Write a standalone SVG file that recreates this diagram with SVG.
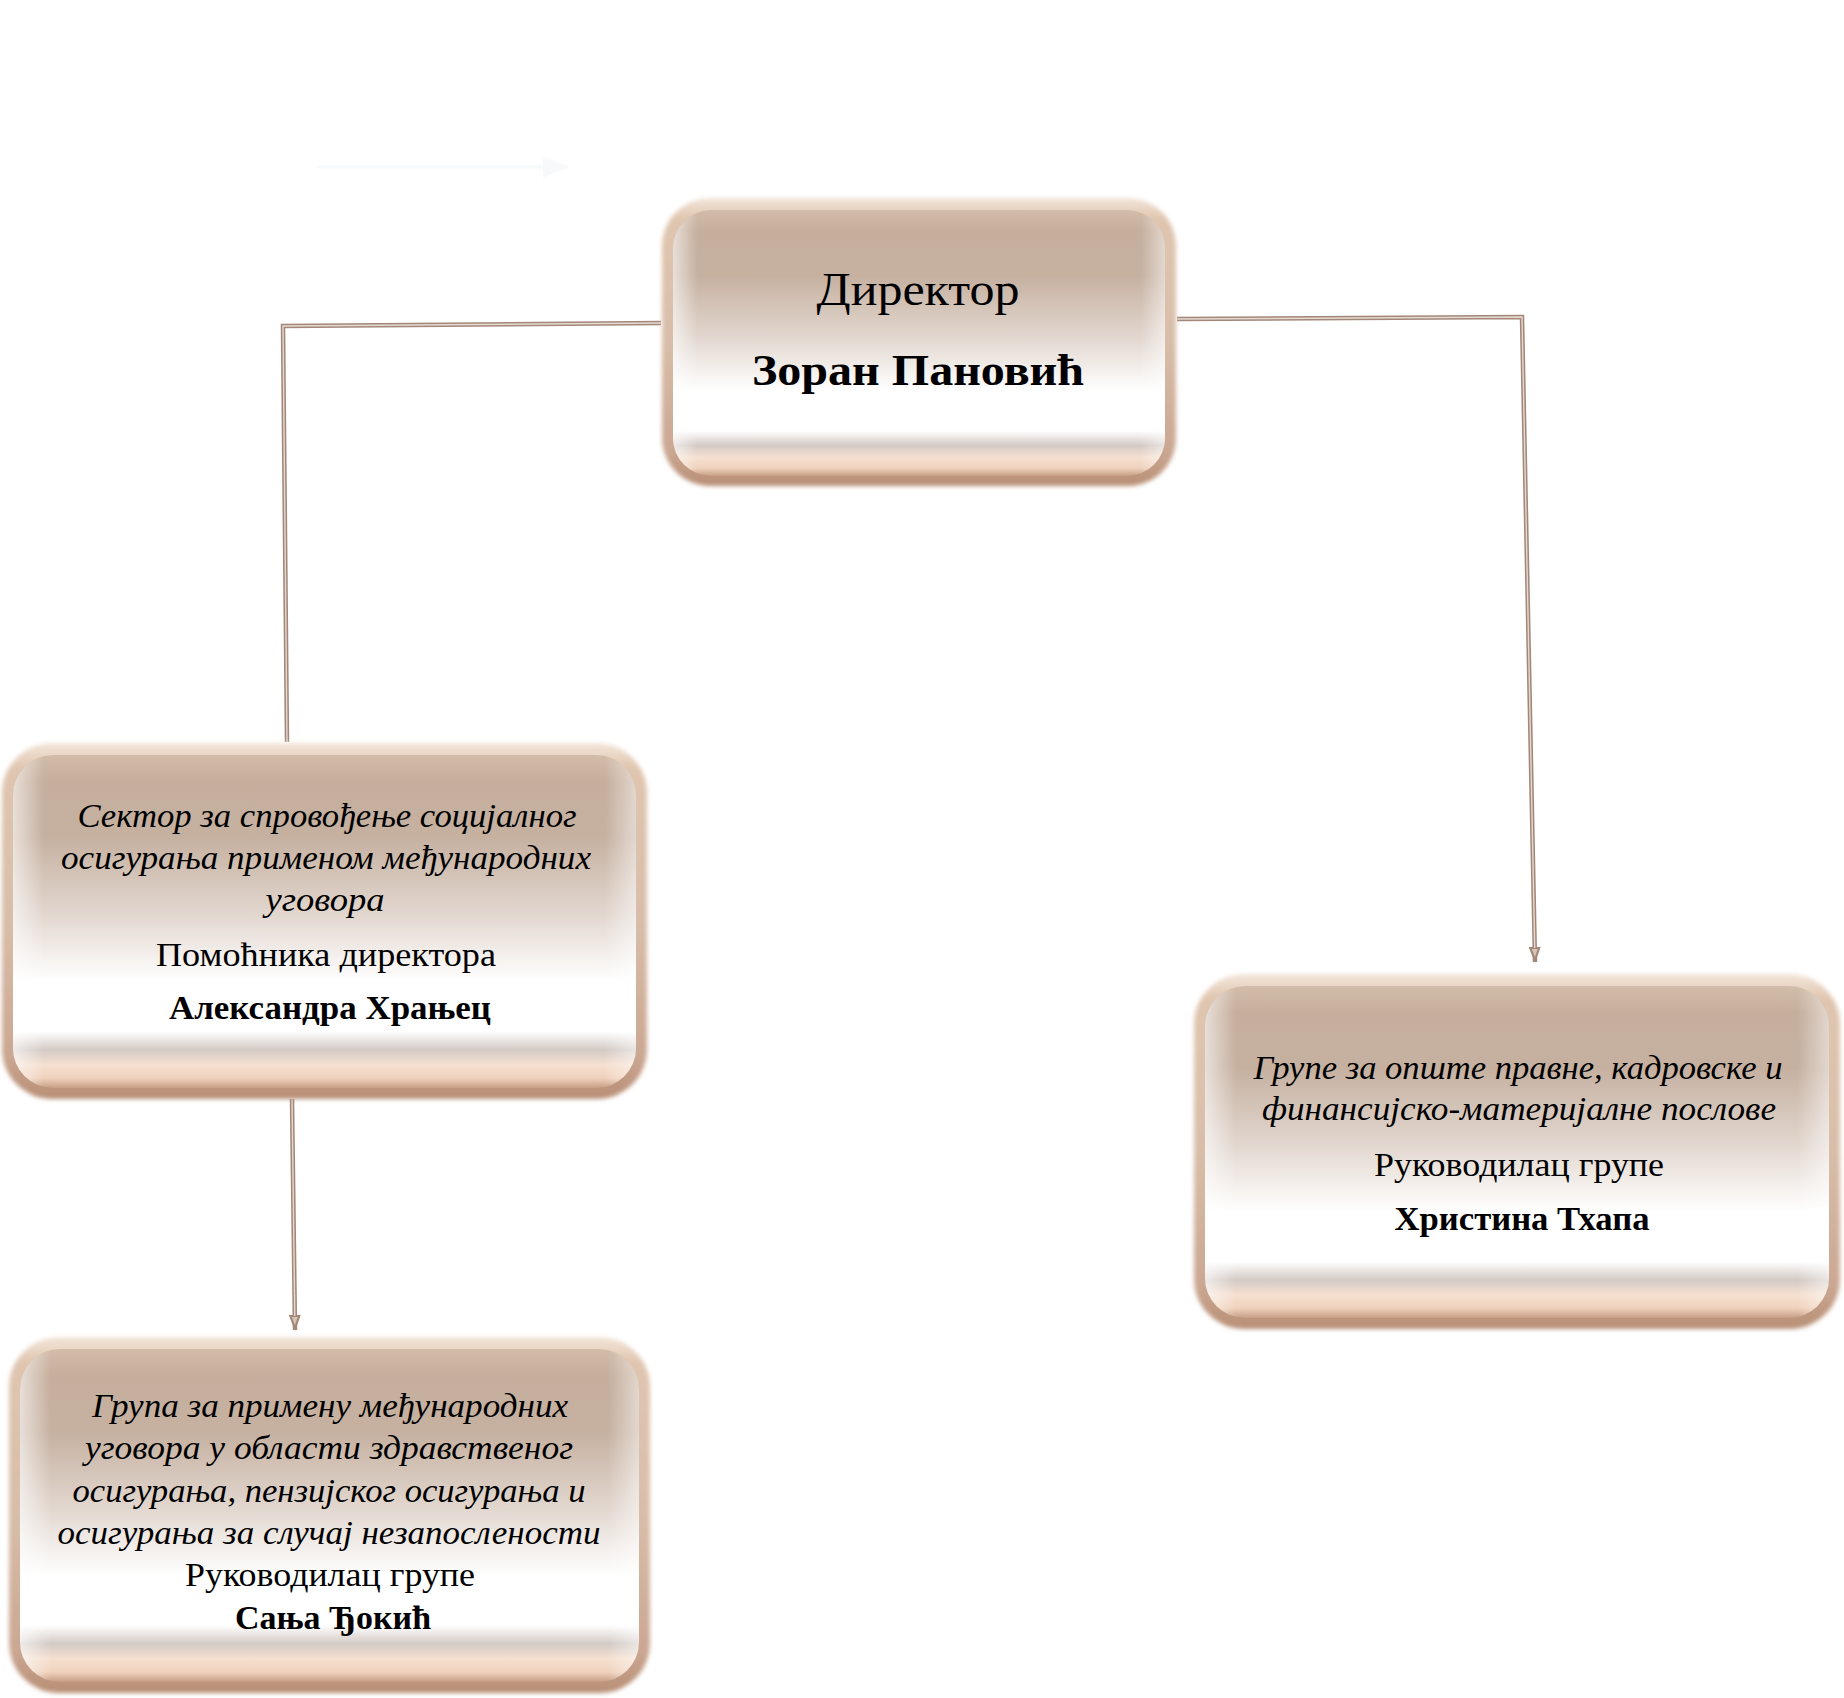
<svg xmlns="http://www.w3.org/2000/svg" width="1844" height="1698" viewBox="0 0 1844 1698">
<style>
text{font-family:"Liberation Serif","DejaVu Serif",serif;fill:#000;text-anchor:middle}
.it{font-style:italic;font-size:33px}
.rg{font-size:34px}
.bd{font-weight:bold;font-size:34px}
.rim{fill:url(#rimG);filter:url(#soft)}
.inner{fill:url(#innerG)}
.side{fill:url(#sideG)}
.ln{fill:none;stroke:#a3887a;stroke-width:4.5}
.lnc{fill:none;stroke:#e6d9d0;stroke-width:1.4}
</style>
<defs>
<linearGradient id="rimG" x1="0" y1="0" x2="0" y2="1">
<stop offset="0" stop-color="#f3e6da"/>
<stop offset="0.07" stop-color="#e0c6b0"/>
<stop offset="0.5" stop-color="#d8bea9"/>
<stop offset="0.88" stop-color="#cba792"/>
<stop offset="1" stop-color="#b88f76"/>
</linearGradient>
<linearGradient id="innerG" x1="0" y1="0" x2="0" y2="1">
<stop offset="0" stop-color="#d2bcaa"/>
<stop offset="0.08" stop-color="#c5ae9c"/>
<stop offset="0.25" stop-color="#c6b1a1"/>
<stop offset="0.48" stop-color="#e2d7cf"/>
<stop offset="0.68" stop-color="#ffffff"/>
<stop offset="0.83" stop-color="#ffffff"/>
<stop offset="0.885" stop-color="#d3cac5"/>
<stop offset="0.93" stop-color="#f5e0d0"/>
<stop offset="0.97" stop-color="#f0d2bd"/>
<stop offset="1" stop-color="#c79e85"/>
</linearGradient>
<linearGradient id="sideG" x1="0" y1="0" x2="1" y2="0">
<stop offset="0" stop-color="#ffffff" stop-opacity="0.6"/>
<stop offset="0.05" stop-color="#ffffff" stop-opacity="0"/>
<stop offset="0.95" stop-color="#ffffff" stop-opacity="0"/>
<stop offset="1" stop-color="#ffffff" stop-opacity="0.5"/>
</linearGradient>
<filter id="soft" x="-5%" y="-5%" width="110%" height="110%">
<feGaussianBlur stdDeviation="2"/>
</filter>
<marker id="arr" viewBox="0 0 16 12" refX="15" refY="6" markerWidth="16" markerHeight="12" markerUnits="userSpaceOnUse" orient="auto">
<path d="M0,0 L16,6 L0,12 Z" fill="#a3887a"/>
<path d="M2,3 L10,6 L2,9 Z" fill="#d8c4b6"/>
</marker>
<marker id="arrW" viewBox="0 0 26 22" refX="25" refY="11" markerWidth="26" markerHeight="22" markerUnits="userSpaceOnUse" orient="auto">
<path d="M0,0 L26,11 L0,22 Z" fill="#f8f9fb"/>
</marker>
</defs>
<rect width="1844" height="1698" fill="#ffffff"/>

<g id="connectors">
<line x1="317" y1="167" x2="568" y2="167" stroke="#f8f9fb" stroke-width="3" marker-end="url(#arrW)"/>
<polyline class="ln" points="661,323 283,326 287,742"/>
<polyline class="lnc" points="661,323 283,326 287,742"/>
<polyline class="ln" points="1177,319 1522,317 1535,962" marker-end="url(#arr)"/>
<polyline class="lnc" points="1177,319 1522,317 1534.7,948"/>
<line class="ln" x1="292" y1="1099" x2="295" y2="1330" marker-end="url(#arr)"/>
<line class="lnc" x1="292" y1="1099" x2="294.8" y2="1316"/>
</g>

<g id="node-direktor">
<rect class="rim" x="662" y="198" width="514" height="288" rx="48"/>
<rect class="inner" x="673" y="210" width="492" height="266" rx="38"/>
<rect class="side" x="673" y="210" width="492" height="266" rx="38"/>
<text x="918" y="305" style="font-size:46px" textLength="203" lengthAdjust="spacingAndGlyphs">Директор</text>
<text x="918" y="385" style="font-size:44px;font-weight:bold" textLength="332" lengthAdjust="spacingAndGlyphs">Зоран Пановић</text>
</g>

<g id="node-sektor">
<rect class="rim" x="2" y="743" width="645" height="356" rx="50"/>
<rect class="inner" x="13" y="755" width="623" height="333" rx="40"/>
<rect class="side" x="13" y="755" width="623" height="333" rx="40"/>
<text class="it" x="327" y="827" textLength="499" lengthAdjust="spacingAndGlyphs">Сектор за спровођење социјалног</text>
<text class="it" x="326" y="869" textLength="530" lengthAdjust="spacingAndGlyphs">осигурања применом међународних</text>
<text class="it" x="325" y="911" textLength="119" lengthAdjust="spacingAndGlyphs">уговора</text>
<text class="rg" x="326" y="966" textLength="340" lengthAdjust="spacingAndGlyphs">Помоћника директора</text>
<text class="bd" x="330" y="1019" textLength="322" lengthAdjust="spacingAndGlyphs">Александра Храњец</text>
</g>

<g id="node-grupe-opste">
<rect class="rim" x="1194" y="974" width="646" height="355" rx="50"/>
<rect class="inner" x="1205" y="986" width="624" height="332" rx="40"/>
<rect class="side" x="1205" y="986" width="624" height="332" rx="40"/>
<text class="it" x="1518" y="1079" textLength="529" lengthAdjust="spacingAndGlyphs">Групе за опште правне, кадровске и</text>
<text class="it" x="1519" y="1120" textLength="514" lengthAdjust="spacingAndGlyphs">финансијско-материјалне послове</text>
<text class="rg" x="1519" y="1176" textLength="290" lengthAdjust="spacingAndGlyphs">Руководилац групе</text>
<text class="bd" x="1522" y="1230" textLength="255" lengthAdjust="spacingAndGlyphs">Христина Тхапа</text>
</g>

<g id="node-grupa-primena">
<rect class="rim" x="9" y="1337" width="641" height="356" rx="50"/>
<rect class="inner" x="20" y="1349" width="619" height="333" rx="40"/>
<rect class="side" x="20" y="1349" width="619" height="333" rx="40"/>
<text class="it" x="330" y="1417" textLength="476" lengthAdjust="spacingAndGlyphs">Група за примену међународних</text>
<text class="it" x="329" y="1459" textLength="488" lengthAdjust="spacingAndGlyphs">уговора у области здравственог</text>
<text class="it" x="329" y="1502" textLength="513" lengthAdjust="spacingAndGlyphs">осигурања, пензијског осигурања и</text>
<text class="it" x="329" y="1544" textLength="543" lengthAdjust="spacingAndGlyphs">осигурања за случај незапослености</text>
<text class="rg" x="330" y="1586" textLength="290" lengthAdjust="spacingAndGlyphs">Руководилац групе</text>
<text class="bd" x="333" y="1629" textLength="196" lengthAdjust="spacingAndGlyphs">Сања Ђокић</text>
</g>
</svg>
